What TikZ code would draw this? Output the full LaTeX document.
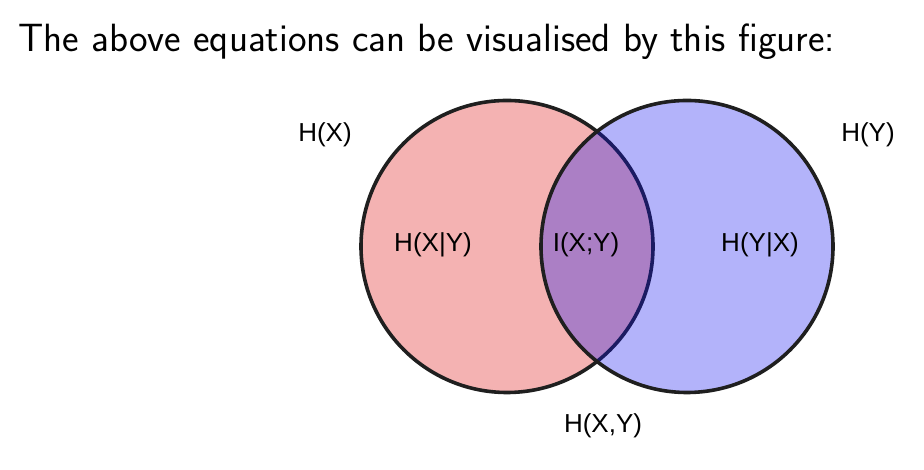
\documentclass[tikz,border=0pt]{standalone}
\usepackage{fontspec}
\newfontfamily\lblfont{Liberation Sans}
\definecolor{pinkfill}{RGB}{244,178,178}
\definecolor{bluefill}{RGB}{20,20,240}
\begin{document}
\begin{tikzpicture}[x=1pt,y=1pt,
  setcircle/.style={circle,inner sep=0pt,minimum size=292pt,line width=3.6pt,draw=black!88},
  lbl/.style={font=\lblfont\fontsize{26}{30}\selectfont,inner sep=0pt,text=black}]
\useasboundingbox (0,0) rectangle (924,470);
\node[anchor=west,inner sep=0pt,font=\sffamily\fontsize{39.4}{46}\selectfont] (title) at (18,428) {The above equations can be visualised by this figure:};
\node[setcircle,fill=pinkfill] (cx) at (507,223.5) {};
\node[setcircle,fill=bluefill,fill opacity=0.32] (cy) at (687,223.5) {};
\node[lbl] (hx) at (325,335) {H(X)};
\node[lbl] (hy) at (868,335) {H(Y)};
\node[lbl] (hxgy) at (433,225) {H(X|Y)};
\node[lbl] (ixy) at (586,225) {I(X;Y)};
\node[lbl] (hygx) at (760,225) {H(Y|X)};
\node[lbl] (hxy) at (603,44) {H(X,Y)};
\end{tikzpicture}
\end{document}
